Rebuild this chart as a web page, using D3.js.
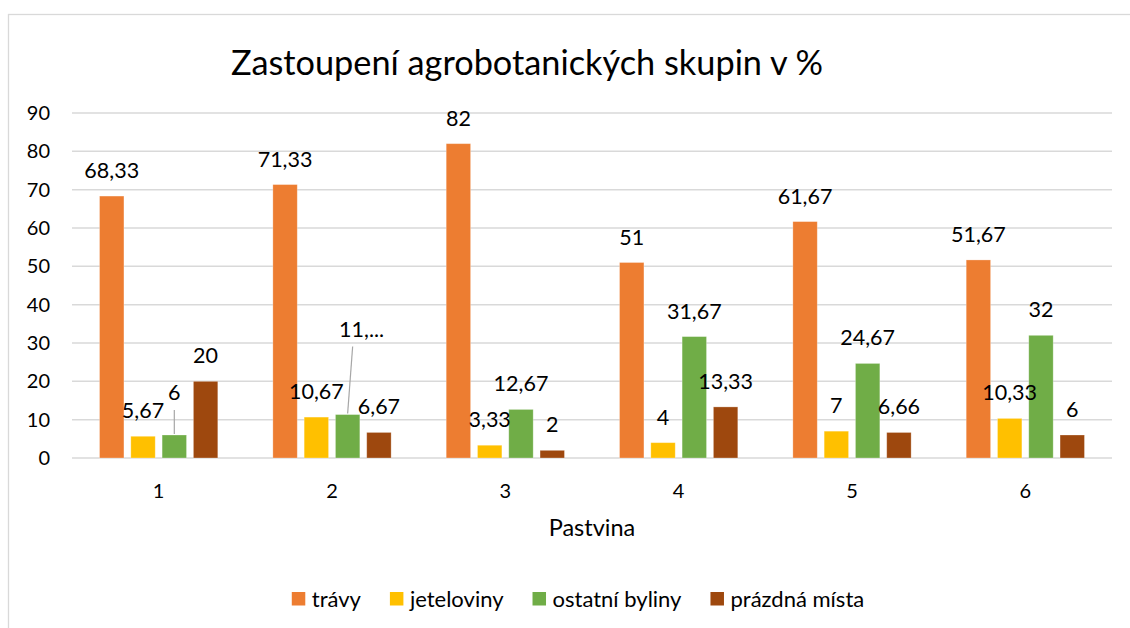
<!DOCTYPE html>
<html>
<head>
<meta charset="utf-8">
<script src="https://cdn.jsdelivr.net/npm/d3@7"></script>
<style>
  body { margin: 0; background: white; }
  text { font-family: Lato, "Open Sans", sans-serif; fill: #000; }
</style>
</head>
<body>
<div id="graphicContainer"></div>
<script>
var categories = ["1", "2", "3", "4", "5", "6"]
var seriesNames = ["trávy", "jeteloviny", "ostatní byliny", "prázdná místa"]
var travy = [68.33, 71.33, 82, 51, 61.67, 51.67]
var jeteloviny = [5.67, 10.67, 3.33, 4, 7, 10.33]
var ostatniByliny = [6, 11.33, 12.67, 31.67, 24.67, 32]
var prazdnaMista = [20, 6.67, 2, 13.33, 6.66, 6]
var yTicks = [0, 10, 20, 30, 40, 50, 60, 70, 80, 90]
var colours = ["#ED7D31", "#FFC000", "#70AD47", "#9E480E"]

var seriesValues = [travy, jeteloviny, ostatniByliny, prazdnaMista]

// labels Excel moved off the bar (with a leader line)
var callouts = [
    {series: 2, cat: 0, dx: 0, dy: -17, lineDx: 0, text: null},
    {series: 2, cat: 1, dx: 14, dy: -60, lineDx: 5, text: "11,..."}
]

var width = 1130, height = 628
var margin = {top: 113, left: 72, right: 18, bottom: 170}

var svg = d3.select("#graphicContainer").append("svg")
    .attr("width", width)
    .attr("height", height)

// chart frame (cropped on right and bottom)
svg.append("rect")
    .attr("x", 8.5).attr("y", 14.5)
    .attr("width", 1200).attr("height", 700)
    .attr("fill", "white")
    .attr("stroke", "#d9d9d9")
    .attr("stroke-width", 1.3)

var x0 = d3.scaleBand()
    .domain(categories)
    .range([margin.left, width - margin.right])

var x1 = d3.scaleBand()
    .domain(d3.range(seriesNames.length))
    .range([0, x0.bandwidth()])
    .paddingInner(0.22)
    .paddingOuter(0.88)

var y = d3.scaleLinear()
    .domain([0, 90])
    .range([height - margin.bottom, margin.top])

// gridlines
svg.append("g")
    .selectAll("line")
    .data(yTicks)
    .enter()
    .append("line")
    .attr("x1", margin.left)
    .attr("x2", width - margin.right)
    .attr("y1", d => y(d))
    .attr("y2", d => y(d))
    .attr("stroke", "#d9d9d9")
    .attr("stroke-width", 1.5)

// y tick labels
svg.append("g")
    .selectAll("text")
    .data(yTicks)
    .enter()
    .append("text")
    .attr("x", 50)
    .attr("y", d => y(d) + 7)
    .attr("text-anchor", "end")
    .style("font-size", "20px")
    .text(d => d)

var fmt = v => String(v).replace(".", ",")

var bars = []
seriesValues.forEach(function(vals, s) {
    vals.forEach(function(v, c) {
        bars.push({s: s, c: c, v: v})
    })
})

svg.append("g")
    .selectAll("rect")
    .data(bars)
    .enter()
    .append("rect")
    .attr("x", d => x0(categories[d.c]) + x1(d.s))
    .attr("y", d => y(d.v))
    .attr("width", x1.bandwidth())
    .attr("height", d => y(0) - y(d.v))
    .attr("fill", d => colours[d.s])
    .attr("stroke", "white")
    .attr("stroke-opacity", 0.35)
    .attr("stroke-width", 0.8)

// data labels
var labels = svg.append("g")
bars.forEach(function(d) {
    var cx = x0(categories[d.c]) + x1(d.s) + x1.bandwidth() / 2
    var top = y(d.v)
    var co = callouts.find(k => k.series == d.s && k.cat == d.c)
    var lx = cx, ly = top - 18
    if (co) {
        lx = cx + co.dx
        ly = ly + co.dy
        labels.append("line")
            .attr("x1", cx + co.lineDx).attr("y1", ly + 10)
            .attr("x2", cx).attr("y2", top - 1)
            .attr("stroke", "#a6a6a6")
            .attr("stroke-width", 1.2)
    }
    labels.append("text")
        .attr("x", lx)
        .attr("y", ly)
        .attr("text-anchor", "middle")
        .style("font-size", "21.5px")
        .text(co && co.text ? co.text : fmt(d.v))
})

// x tick labels
svg.append("g")
    .selectAll("text")
    .data(categories)
    .enter()
    .append("text")
    .attr("x", d => x0(d) + x0.bandwidth() / 2)
    .attr("y", 498)
    .attr("text-anchor", "middle")
    .style("font-size", "20px")
    .text(d => d)

svg.append("text")
    .attr("x", (margin.left + width - margin.right) / 2)
    .attr("y", 536)
    .attr("text-anchor", "middle")
    .style("font-size", "23.5px")
    .text("Pastvina")

svg.append("text")
    .attr("x", 527)
    .attr("y", 75)
    .attr("text-anchor", "middle")
    .style("font-size", "34.3px")
    .text("Zastoupení agrobotanických skupin v %")

// legend
var legend = svg.append("g")
var lx = 0
seriesNames.forEach(function(name, i) {
    var g = legend.append("g")
    g.append("rect")
        .attr("x", lx).attr("y", 592)
        .attr("width", 13.5).attr("height", 13.5)
        .attr("fill", colours[i])
    var t = g.append("text")
        .attr("x", lx + 20)
        .attr("y", 606.5)
        .style("font-size", "22px")
        .text(name)
    lx = lx + 20 + t.node().getComputedTextLength() + 29
})
var legendWidth = lx - 29
legend.attr("transform", "translate(" + (578 - legendWidth / 2) + ",0)")
</script>
</body>
</html>
